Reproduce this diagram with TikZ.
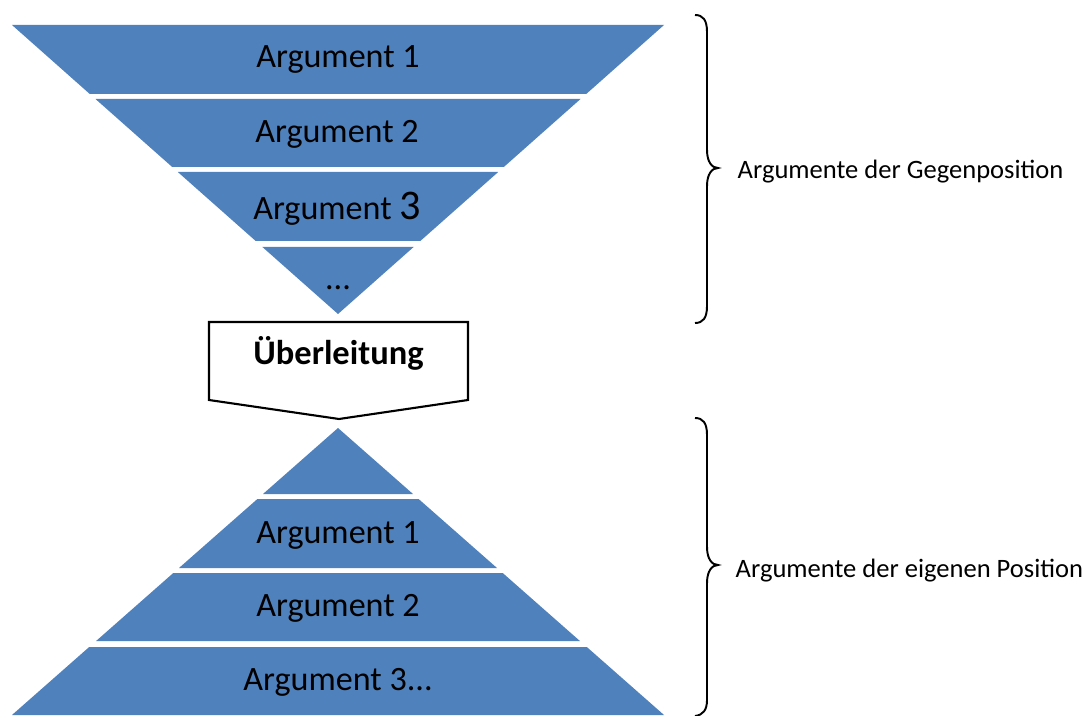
\documentclass[tikz,border=0pt]{standalone}
\usepackage{fontspec}
\setmainfont{Carlito}
\definecolor{bandblue}{HTML}{4F81BD}
\begin{document}
\begin{tikzpicture}[x=0.01cm,y=-0.01cm,
  band/.style={fill=bandblue,draw=none},
  arglabel/.style={font=\fontsize{9.7pt}{11pt}\selectfont,anchor=base,inner sep=0pt},
  sidelabel/.style={font=\fontsize{7.55pt}{9pt}\selectfont,anchor=base west,inner sep=0pt},
  bracestyle/.style={draw=black,line width=0.55pt},
  boxstyle/.style={draw=black,line width=0.6pt,fill=white}]
\fill[white] (0,0) rectangle (1089,716);
\useasboundingbox (0,0) rectangle (1089,716);
% top inverted triangle
\fill[band] (12,25) -- (664,25) -- (586.2,94) -- (89.8,94) -- cycle;
\fill[band] (95.5,99) -- (580.5,99) -- (503.8,167) -- (172.2,167) -- cycle;
\fill[band] (177.8,172) -- (498.2,172) -- (420.3,241) -- (255.7,241) -- cycle;
\fill[band] (262.4,247) -- (413.6,247) -- (338,314) -- cycle;
\node[arglabel] (t1) at (338,68) {Argument 1};
\node[arglabel] (t2) at (337,143) {Argument 2};
\node[arglabel] (t3) at (337,220) {Argument {\fontsize{12pt}{13pt}\selectfont 3}};
\node[arglabel] (t4) at (338,290) {...};
% transition box
\draw[boxstyle] (209,322) -- (468,322) -- (468,400) -- (339,419) -- (209,400) -- cycle;
\node[arglabel,font=\bfseries\fontsize{9.8pt}{11pt}\selectfont] (ueb) at (338.5,365) {Überleitung};
% bottom pyramid
\fill[band] (338,428) -- (413,494) -- (263,494) -- cycle;
\fill[band] (257.4,499) -- (418.6,499) -- (497,568) -- (179,568) -- cycle;
\fill[band] (173.3,573) -- (502.7,573) -- (579.9,641) -- (96.1,641) -- cycle;
\fill[band] (89.2,647) -- (586.8,647) -- (664,715) -- (12,715) -- cycle;
\node[arglabel] (b1) at (338,543) {Argument 1};
\node[arglabel] (b2) at (338,616) {Argument 2};
\node[arglabel] (b3) at (338,690) {Argument 3...};
% braces
\draw[bracestyle] (695,15) .. controls (703,15) and (707,20) .. (707,32) -- (707,150)
  .. controls (707,162) and (712,168) .. (718,168)
  .. controls (712,168) and (707,174) .. (707,186) -- (707,306)
  .. controls (707,318) and (703,323) .. (695,323);
\node[sidelabel] (l1) at (737,179) {Argumente der Gegenposition};
\draw[bracestyle] (695,418) .. controls (703,418) and (707,423) .. (707,435) -- (707,547)
  .. controls (707,559) and (712,565) .. (718,565)
  .. controls (712,565) and (707,571) .. (707,583) -- (707,700)
  .. controls (707,710) and (703,715) .. (695,716);
\node[sidelabel] (l2) at (735,577) {Argumente der eigenen Position};
\end{tikzpicture}
\end{document}
